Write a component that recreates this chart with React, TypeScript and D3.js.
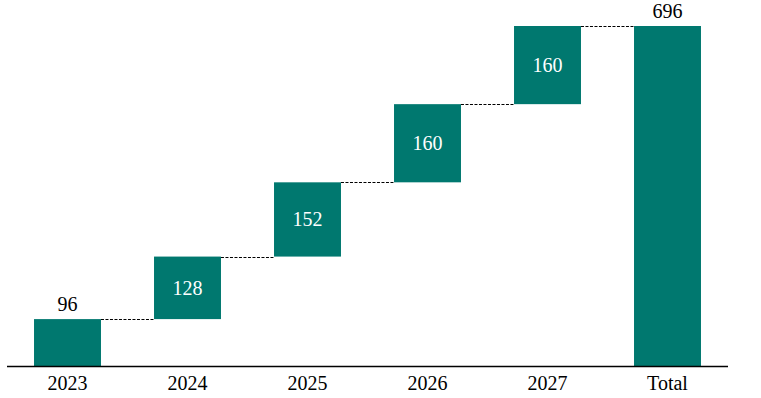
import React from "react";
import * as d3 from "d3";

const categories = ["2023", "2024", "2025", "2026", "2027", "Total"];
const increments = [96, 128, 152, 160, 160];
const totalValue = 696;

const W = 761;
const H = 398;
const baseY = 366;
const topY = 26;
const COLOR = "#00786F";
const FONT = "'Book Antiqua', Palatino, 'Palatino Linotype', 'Liberation Serif', 'DejaVu Serif', serif";

export default function App() {
  const x = d3.scaleBand<string>().domain(categories).range([7.5, 727.5]).paddingInner(0.442).paddingOuter(0.221);
  const y = d3.scaleLinear().domain([0, totalValue]).range([baseY, topY]);

  const cum: number[] = [];
  let acc = 0;
  increments.forEach((v) => {
    cum.push(acc);
    acc += v;
  });

  const bars = increments.map((v, i) => ({ cat: categories[i], start: cum[i], end: cum[i] + v, value: v }));
  bars.push({ cat: "Total", start: 0, end: totalValue, value: totalValue });

  const bw = x.bandwidth();

  return (
    <svg width={W} height={H} style={{ position: "absolute", left: 0, top: 0 }} fontFamily={FONT}>
      {bars.map((b, i) => {
        const x0 = x(b.cat)!;
        const yTop = y(b.end);
        const yBot = y(b.start);
        const inside = i > 0 && i < bars.length - 1;
        return (
          <g key={b.cat}>
            <rect x={x0} y={yTop} width={bw} height={yBot - yTop} fill={COLOR} />
            {inside ? (
              <text x={x0 + bw / 2} y={(yTop + yBot) / 2} dy="0.35em" textAnchor="middle" fill="#fff" fontSize={20}>
                {b.value}
              </text>
            ) : (
              <text x={x0 + bw / 2} y={yTop - 8} textAnchor="middle" fill="#000" fontSize={20}>
                {b.value}
              </text>
            )}
          </g>
        );
      })}
      {bars.slice(0, -1).map((b, i) => {
        const next = bars[i + 1];
        const yy = Math.round(y(b.end)) + 0.5;
        return (
          <line
            key={"c" + i}
            x1={x(b.cat)! + bw}
            x2={x(next.cat)!}
            y1={yy}
            y2={yy}
            stroke="#000"
            strokeWidth={1}
            strokeDasharray="3,1.5"
          />
        );
      })}
      <line x1={7} x2={728} y1={baseY + 0.5} y2={baseY + 0.5} stroke="#000" strokeWidth={1.3} />
      {categories.map((c) => (
        <text key={c} x={x(c)! + bw / 2} y={390} textAnchor="middle" fill="#000" fontSize={20}>
          {c}
        </text>
      ))}
    </svg>
  );
}
